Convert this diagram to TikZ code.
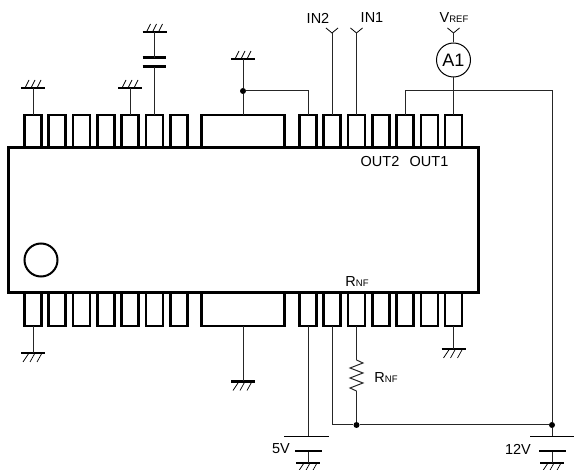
\documentclass[tikz,border=0pt]{standalone}
\usepackage{fontspec}
\setmainfont{Liberation Sans}
\newcommand{\lab}{\fontsize{14.5}{16}\selectfont}
\newcommand{\sublab}{\fontsize{9.5}{10}\selectfont}
\tikzset{
  pinbox/.style={draw,line width=2.4pt,inner sep=0,outer sep=0,minimum width=17pt,minimum height=33pt},
  padbox/.style={draw,line width=2.4pt,inner sep=0,outer sep=0,minimum width=83pt,minimum height=33pt},
  wire/.style={line width=1pt,black!85},
  junction/.style={circle,fill=black,inner sep=0,minimum size=6pt},
  gndup/.pic={
    \draw [line width=2.8pt] (-12,0) -- (12,0);
    \draw [line width=0.7pt] (-8,0) -- (-4,-8) (-2,0) -- (2,-8) (4,0) -- (8,-8);
  },
  gnddown/.pic={
    \draw [line width=2.8pt] (-12,0) -- (12,0);
    \draw [line width=0.7pt] (-4,0) -- (-10,9) (2,0) -- (-3,9) (9,0) -- (4,9);
  },
  fork/.pic={
    \draw [line width=0.8pt] (-6,-5) -- (0,0) -- (6,-5);
  },
}
\begin{document}
\begin{tikzpicture}[x=1pt,y=-1pt]
  \useasboundingbox (0,0) rectangle (574,470);

  \node [draw,line width=3pt,inner sep=0,outer sep=0,minimum width=470pt,minimum height=145pt] at (243,220.5) (Body) {};
  \node [draw,line width=2pt,circle,inner sep=0,minimum size=33pt] at (41,260) (Dimple) {};

  % top row
  \node [pinbox] at (33,131.5)    (Top1)  {};
  \node [pinbox] at (57,131.5)    (Top2)  {};
  \node [pinbox] at (81.5,131.5)  (Top3)  {};
  \node [pinbox] at (106,131.5)   (Top4)  {};
  \node [pinbox] at (130,131.5)   (Top5)  {};
  \node [pinbox] at (154.5,131.5) (Top6)  {};
  \node [pinbox] at (179,131.5)   (Top7)  {};
  \node [padbox] at (243,131.5)   (TopPad) {};
  \node [pinbox] at (308,131.5)   (Top8)  {};
  \node [pinbox] at (332,131.5)   (Top9)  {};
  \node [pinbox] at (356.5,131.5) (Top10) {};
  \node [pinbox] at (381,131.5)   (Top11) {};
  \node [pinbox] at (405,131.5)   (Top12) {};
  \node [pinbox] at (429.5,131.5) (Top13) {};
  \node [pinbox] at (453.5,131.5) (Top14) {};

  % bottom row
  \node [pinbox] at (33,309.5)    (Bot1)  {};
  \node [pinbox] at (57,309.5)    (Bot2)  {};
  \node [pinbox] at (81.5,309.5)  (Bot3)  {};
  \node [pinbox] at (106,309.5)   (Bot4)  {};
  \node [pinbox] at (130,309.5)   (Bot5)  {};
  \node [pinbox] at (154.5,309.5) (Bot6)  {};
  \node [pinbox] at (179,309.5)   (Bot7)  {};
  \node [padbox] at (243,309.5)   (BotPad) {};
  \node [pinbox] at (308,309.5)   (Bot8)  {};
  \node [pinbox] at (332,309.5)   (Bot9)  {};
  \node [pinbox] at (356.5,309.5) (Bot10) {};
  \node [pinbox] at (381,309.5)   (Bot11) {};
  \node [pinbox] at (405,309.5)   (Bot12) {};
  \node [pinbox] at (429.5,309.5) (Bot13) {};
  \node [pinbox] at (453.5,309.5) (Bot14) {};

  \coordinate (GndA) at (33,88);
  \coordinate (GndB) at (130,88);
  \coordinate (GndC) at (154.5,32);
  \coordinate (GndD) at (243,59);
  \coordinate (GndE) at (33,353);
  \coordinate (GndF) at (243,381.5);
  \coordinate (GndG) at (453.5,349);
  \coordinate (GndH) at (308,463);
  \coordinate (GndI) at (552,463);
  \pic at (GndA) {gndup};
  \pic at (GndB) {gndup};
  \pic at (GndC) {gndup};
  \pic at (GndD) {gndup};
  \pic at (GndE) {gnddown};
  \pic at (GndF) {gnddown};
  \pic at (GndG) {gnddown};
  \pic at (GndH) {gnddown};
  \pic at (GndI) {gnddown};

  \draw [wire] (Top1.north) -- (GndA);
  \draw [wire] (Top5.north) -- (GndB);
  \draw [wire] (Bot1.south) -- (GndE);
  \draw [wire] (BotPad.south) -- (GndF);
  \draw [wire] (Bot14.south) -- (GndG);

  % capacitor on pin 6
  \coordinate (CapHi) at (154.5,58);
  \coordinate (CapLo) at (154.5,67);
  \draw [line width=3pt] (142.5,58) -- (165.5,58);
  \draw [line width=3pt] (142.5,67) -- (165.5,67);
  \draw [wire] (Top6.north) -- (CapLo);
  \draw [wire] (CapHi) -- (GndC);

  % pad tied to pin 8
  \node [junction] at (243,91) (PadJoin) {};
  \draw [wire] (TopPad.north) -- (PadJoin) -- (GndD);
  \draw [wire] (PadJoin) -| (Top8.north);

  % inputs
  \coordinate (ForkA) at (332,33);
  \coordinate (ForkB) at (356.5,33);
  \coordinate (ForkC) at (453.5,33);
  \pic at (ForkA) {fork};
  \pic at (ForkB) {fork};
  \pic at (ForkC) {fork};
  \draw [wire] (Top9.north) -- (ForkA);
  \draw [wire] (Top10.north) -- (ForkB);

  \node [draw,line width=1pt,circle,inner sep=0,minimum size=34pt,font=\fontsize{18}{20}\selectfont] at (453.5,60) (Amp) {A1};
  \draw [wire] (Top14.north) -- (Amp);
  \draw [wire] (Amp) -- (ForkC);

  % supply rails
  \node [junction] at (552,425) (RailJoin) {};
  \node [junction] at (356.5,425) (SenseJoin) {};
  \coordinate (ResHi) at (356.5,360);
  \coordinate (ResLo) at (356.5,391);
  \coordinate (PlateA) at (308,436);
  \coordinate (PlateB) at (308,451);
  \coordinate (PlateC) at (552,436);
  \coordinate (PlateD) at (552,451);

  \draw [wire] (Top12.north) |- (RailJoin |- 0,91) -- (RailJoin);
  \draw [wire] (RailJoin) -- (PlateC);
  \draw [wire] (Bot9.south) |- (SenseJoin);
  \draw [wire] (SenseJoin) -- (RailJoin);
  \draw [wire] (Bot10.south) -- (ResHi);
  \draw [wire] (ResHi) -- ++(6.5,3) -- ++(-13,5) -- ++(13,5) -- ++(-13,5) -- ++(13,5) -- ++(-13,5) -- (ResLo);
  \draw [wire] (ResLo) -- (SenseJoin);

  \draw [wire] (Bot8.south) -- (PlateA);
  \draw [wire] (PlateB) -- (GndH);
  \draw [wire] (PlateD) -- (GndI);
  \draw [line width=0.8pt] (284,436) -- (329,436);
  \draw [line width=2.8pt] (295,451) -- (322,451);
  \draw [line width=0.8pt] (530,436) -- (574,436);
  \draw [line width=2.8pt] (539,451) -- (566,451);

  \node [font=\lab] at (318,18)   (NameIn2)  {IN2};
  \node [font=\lab] at (372,18)   (NameIn1)  {IN1};
  \node [font=\lab] at (454,18)   (NameVref) {V\sublab REF};
  \node [font=\lab] at (380,162)  (NameOut2) {OUT2};
  \node [font=\lab] at (429,162)  (NameOut1) {OUT1};
  \node [font=\lab] at (357,282)  (NameRnfA) {R\sublab NF};
  \node [font=\lab] at (386,378)  (NameRnfB) {R\sublab NF};
  \node [font=\lab] at (281,449)  (NameFive) {5V};
  \node [font=\lab] at (518,449)  (NameTwelve) {12V};
\end{tikzpicture}
\end{document}
